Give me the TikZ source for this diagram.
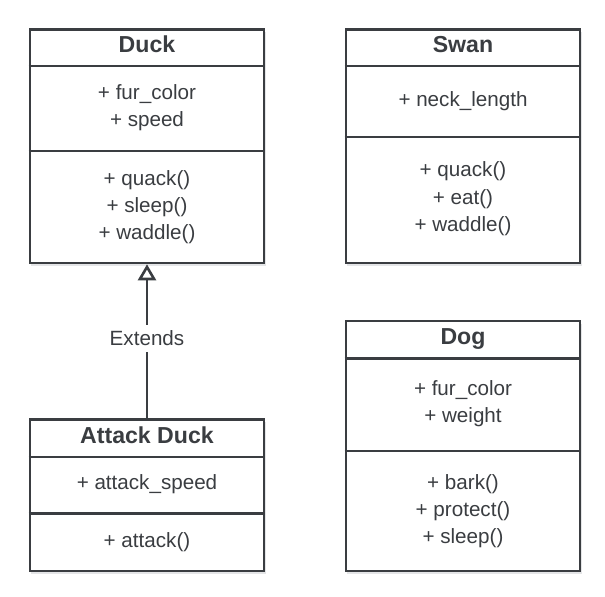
\documentclass[tikz,border=0pt]{standalone}
\usepackage{fontspec}
\setmainfont{Liberation Sans}
\usetikzlibrary{arrows.meta}
\definecolor{ink}{RGB}{58,61,65}
\definecolor{shade}{RGB}{228,229,231}
\begin{document}
\begin{tikzpicture}[x=1bp,y=-1bp,
  umlbox/.style={draw=ink, line width=2.6bp, fill=white, inner sep=0pt, minimum width=234bp},
  divider/.style={draw=ink, line width=2.6bp},
  boxshadow/.style={fill=shade, draw=none},
  title/.style={font=\fontsize{23.2}{27}\selectfont\bfseries, text=ink, inner sep=0pt, anchor=base},
  member/.style={font=\fontsize{20.7}{27}\selectfont, text=ink, inner sep=0pt, anchor=base},
  conn/.style={draw=ink, line width=2.6bp, -{Triangle[open, length=16bp, width=18bp, line width=2.6bp]}},
  edgelabel/.style={font=\fontsize{20.7}{27}\selectfont, text=ink, fill=white, inner xsep=2bp, inner ysep=6bp}
]
\useasboundingbox (0,0) rectangle (605,597);
% shadows
\fill[boxshadow] (31,32) rectangle (266,266);
\fill[boxshadow] (347,32) rectangle (582,266);
\fill[boxshadow] (31,422) rectangle (266,574);
\fill[boxshadow] (347,324) rectangle (582,574);
% boxes
\node[umlbox, minimum height=233.5bp] (duck) at (147,146.25) {};
\node[umlbox, minimum height=233.5bp] (swan) at (463,146.25) {};
\node[umlbox, minimum height=151.5bp] (attack) at (147,495.25) {};
\node[umlbox, minimum height=250bp] (dog) at (463,446) {};
% dividers
\draw[divider] (duck.west |- 0,66) -- (duck.east |- 0,66);
\draw[divider] (duck.west |- 0,151) -- (duck.east |- 0,151);
\draw[divider] (swan.west |- 0,66) -- (swan.east |- 0,66);
\draw[divider] (swan.west |- 0,137) -- (swan.east |- 0,137);
\draw[divider] (attack.west |- 0,457) -- (attack.east |- 0,457);
\draw[divider] (attack.west |- 0,513.5) -- (attack.east |- 0,513.5);
\draw[divider] (dog.west |- 0,358.5) -- (dog.east |- 0,358.5);
\draw[divider] (dog.west |- 0,451) -- (dog.east |- 0,451);
% Duck
\node[title] (duckT) at (147,53) {Duck};
\node[member] (duckA1) at (147,100) {+ fur\_color};
\node[member] (duckA2) at (147,127) {+ speed};
\node[member] (duckM1) at (147,185) {+ quack()};
\node[member] (duckM2) at (147,212) {+ sleep()};
\node[member] (duckM3) at (147,239) {+ waddle()};
% Swan
\node[title] (swanT) at (463,53) {Swan};
\node[member] (swanA1) at (463,107) {+ neck\_length};
\node[member] (swanM1) at (463,177) {+ quack()};
\node[member] (swanM2) at (463,204) {+ eat()};
\node[member] (swanM3) at (463,231) {+ waddle()};
% Attack Duck
\node[title] (attackT) at (147,443) {Attack Duck};
\node[member] (attackA1) at (147,489) {+ attack\_speed};
\node[member] (attackM1) at (147,547) {+ attack()};
% Dog
\node[title] (dogT) at (463,344.5) {Dog};
\node[member] (dogA1) at (463,395) {+ fur\_color};
\node[member] (dogA2) at (463,422) {+ weight};
\node[member] (dogM1) at (463,489) {+ bark()};
\node[member] (dogM2) at (463,516) {+ protect()};
\node[member] (dogM3) at (463,543) {+ sleep()};
% connector
\draw[conn] (attack.north) -- node[edgelabel, pos=0.52] (ext) {Extends} (duck.south);
\end{tikzpicture}
\end{document}
